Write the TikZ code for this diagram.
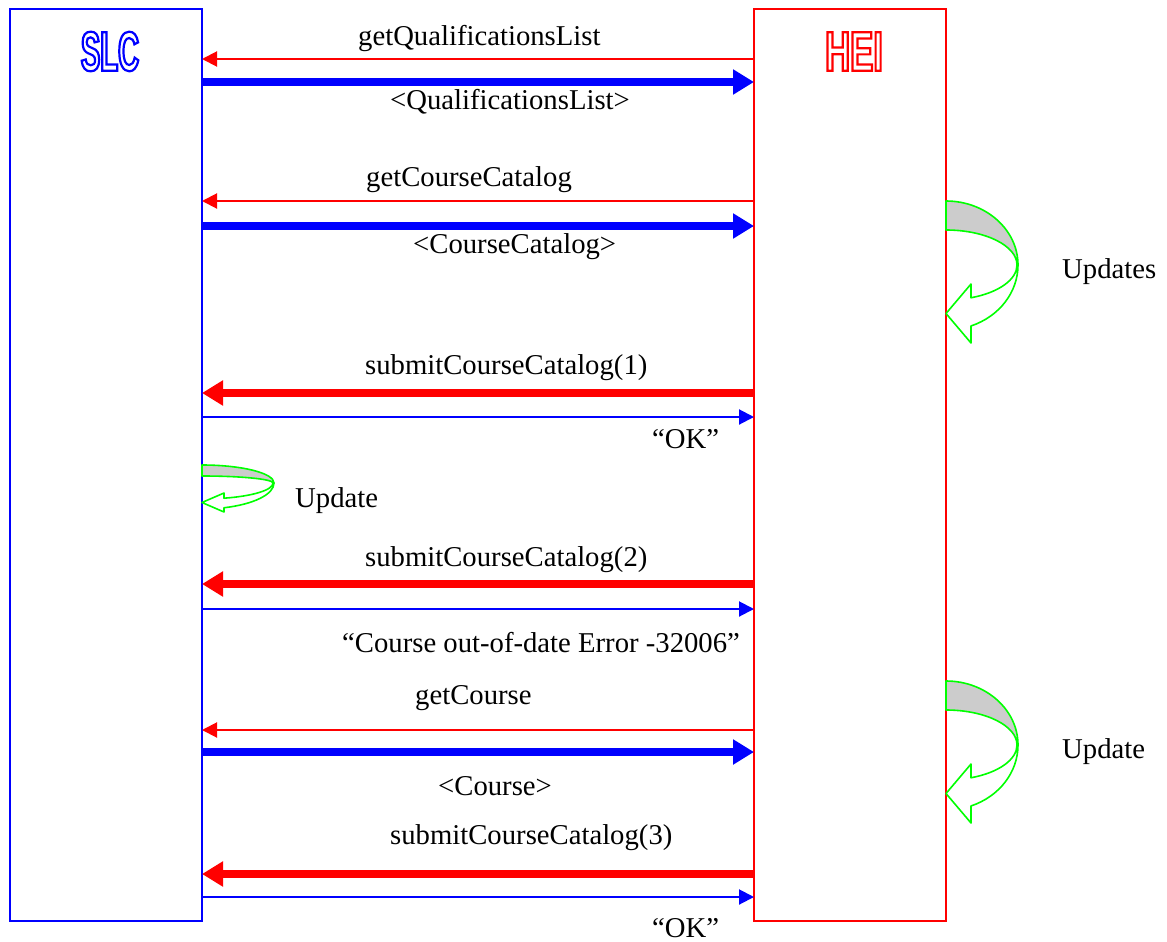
\documentclass[tikz,border=0pt]{standalone}
\usepackage{fontspec}
\setmainfont{Liberation Serif}
\newfontfamily\slcfont[FakeStretch=0.52]{Liberation Sans}
\newfontfamily\heifont[FakeStretch=0.62]{Liberation Sans}
\usetikzlibrary{arrows.meta}
\definecolor{pblue}{RGB}{0,0,255}
\definecolor{pred}{RGB}{255,0,0}
\definecolor{pgreen}{RGB}{0,255,0}
\definecolor{pgrey}{RGB}{204,204,204}
\newcommand\outlined[1]{\special{pdf:literal direct 1 Tr 2.2 w}#1\special{pdf:literal direct 0 Tr}}
% curl arrow: #1 cx, #2 cy, #3 outer upper ry, #4 inner upper ry,
% #5 outer lower ry, #6 inner lower ry, #7 head base x, #8 head top y, #9 head bottom y
\newcommand\curlarrow[9]{%
  \pgfmathsetmacro\curlao{acos(#7/72)}%
  \pgfmathsetmacro\curlai{acos(#7/71)}%
  \pgfmathsetmacro\curlyo{#5*sin(\curlao)}%
  \pgfmathsetmacro\curlyi{#6*sin(\curlai)}%
  \pgfmathsetmacro\curltip{(#8+#9)/2}%
  \begin{scope}[shift={(#1,#2)}]
    \filldraw[curl, fill=pgrey] (0,-#3) arc[start angle=-90,end angle=0,x radius=72,y radius=#3]
      -- (71,0) arc[start angle=0,end angle=-90,x radius=71,y radius=#4] -- cycle;
    \filldraw[curl, fill=white] (72,0) arc[start angle=0,end angle=\curlao,x radius=72,y radius=#5]
      -- (#7,#9) -- (0,\curltip) -- (#7,#8) -- (#7,\curlyi)
      arc[start angle=\curlai,end angle=0,x radius=71,y radius=#6] -- cycle;
  \end{scope}}
\begin{document}
\begin{tikzpicture}[x=1pt,y=-1pt,
  lbl/.style={anchor=base west, inner sep=0pt, font=\fontsize{28.7}{34}\selectfont},
  party/.style={draw, line width=2pt, minimum width=192pt, minimum height=912pt,
    inner sep=0pt, outer sep=0pt, anchor=north west},
  thinmsg/.style={line width=2pt, -{Triangle[length=15pt,width=15pt]}},
  thickmsg/.style={line width=8pt, -{Triangle[length=21pt,width=24pt]}},
  curl/.style={draw=pgreen, line width=1.6pt, line join=round},
  titlefont/.style={font=\bfseries\fontsize{56}{56}\selectfont, inner sep=0pt}]
\useasboundingbox (0,0) rectangle (1167,942);
\node[party, draw=pblue] (slc) at (10,9) {};
\node[party, draw=pred] (hei) at (754,9) {};
% outlined titles
\node[titlefont, text=pblue] (slct) at (110,51.5) {\slcfont\bfseries\outlined{SLC}};
\node[titlefont, text=pred] (heit) at (854,51.5) {\heifont\bfseries\outlined{HEI}};
% messages
\draw[thinmsg, pred] (hei.west |- 0,59) -- (slc.east |- 0,59);
\node[lbl] (m1) at (358,46) {getQualificationsList};
\draw[thickmsg, pblue] (slc.east |- 0,82) -- (hei.west |- 0,82);
\node[lbl] (m2) at (390,109) {<QualificationsList>};
\draw[thinmsg, pred] (hei.west |- 0,201) -- (slc.east |- 0,201);
\node[lbl] (m3) at (366,186) {getCourseCatalog};
\draw[thickmsg, pblue] (slc.east |- 0,226) -- (hei.west |- 0,226);
\node[lbl] (m4) at (413,253) {<CourseCatalog>};
\curlarrow{946}{265}{64}{35}{65}{35}{25}{19}{78}
\node[lbl] (u1) at (1062,278) {Updates};
\draw[thickmsg, pred] (hei.west |- 0,393) -- (slc.east |- 0,393);
\node[lbl] (m5) at (365,374) {submitCourseCatalog(1)};
\draw[thinmsg, pblue] (slc.east |- 0,417) -- (hei.west |- 0,417);
\node[lbl] (m6) at (652,448) {“OK”};
\curlarrow{202}{483}{18}{7}{26}{16}{22}{10}{29}
\node[lbl] (u2) at (295,507) {Update};
\draw[thickmsg, pred] (hei.west |- 0,584) -- (slc.east |- 0,584);
\node[lbl] (m7) at (365,566) {submitCourseCatalog(2)};
\draw[thinmsg, pblue] (slc.east |- 0,609) -- (hei.west |- 0,609);
\node[lbl] (m8) at (342,652) {“Course out-of-date Error -32006”};
\node[lbl] (m9) at (415,704) {getCourse};
\draw[thinmsg, pred] (hei.west |- 0,730) -- (slc.east |- 0,730);
\draw[thickmsg, pblue] (slc.east |- 0,752) -- (hei.west |- 0,752);
\node[lbl] (m10) at (438,795) {<Course>};
\curlarrow{946}{745}{64}{35}{65}{35}{25}{19}{78}
\node[lbl] (u3) at (1062,758) {Update};
\node[lbl] (m11) at (390,844) {submitCourseCatalog(3)};
\draw[thickmsg, pred] (hei.west |- 0,874) -- (slc.east |- 0,874);
\draw[thinmsg, pblue] (slc.east |- 0,897) -- (hei.west |- 0,897);
\node[lbl] (m12) at (652,937) {“OK”};
\end{tikzpicture}
\end{document}
